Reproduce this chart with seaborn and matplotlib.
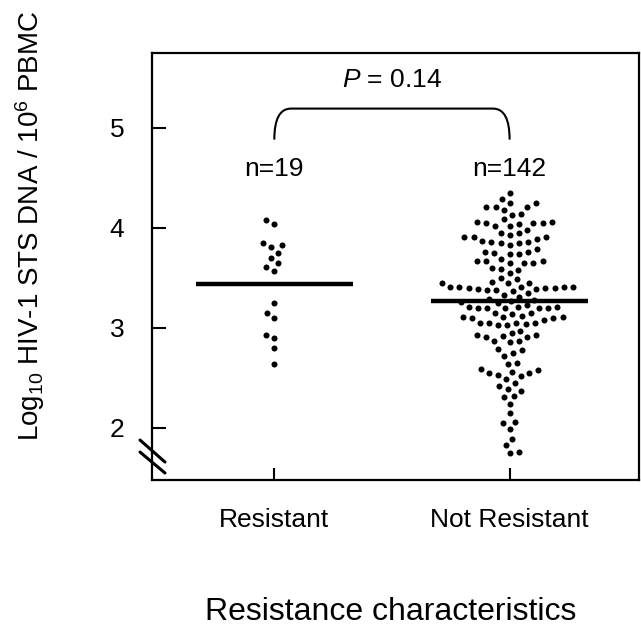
import numpy as np
import pandas as pd
import matplotlib
matplotlib.use('Agg')
import matplotlib.pyplot as plt
import seaborn as sns
from matplotlib.path import Path
from matplotlib.patches import PathPatch

# Data (log10 copies / 10^6 PBMC)
groups = ['Resistant', 'Not Resistant']
resistant = [4.08, 4.04, 3.83, 3.81, 3.85, 3.70, 3.75, 3.61, 3.57, 3.65,
             3.25, 3.15, 3.10, 2.90, 2.93, 2.80, 2.64]
not_resistant = [
    4.35, 4.29, 4.25, 4.25, 4.21, 4.21, 4.21, 4.18, 4.14, 4.13, 4.09, 4.06,
    4.06, 4.05, 4.05, 4.05, 4.04, 4.02, 4.02, 3.98, 3.95, 3.95, 3.93, 3.91,
    3.91, 3.91, 3.89, 3.87, 3.86, 3.86, 3.85, 3.85, 3.83, 3.79, 3.76, 3.76,
    3.75, 3.74, 3.74, 3.69, 3.67, 3.67, 3.67, 3.65, 3.65, 3.65, 3.60, 3.59,
    3.58, 3.55, 3.50, 3.49, 3.46, 3.45, 3.45, 3.45, 3.41, 3.41, 3.41, 3.41,
    3.41, 3.40, 3.40, 3.40, 3.39, 3.39, 3.38, 3.38, 3.37, 3.35, 3.33, 3.31,
    3.29, 3.23, 3.21, 3.21, 3.21, 3.20, 3.20, 3.20, 3.20, 3.20,
    3.28, 3.27, 3.26, 3.25,
    3.14, 3.11, 3.11, 3.11, 3.15, 3.15, 3.10, 3.10, 3.12,
    3.05, 3.05, 3.05, 3.03, 3.05, 3.08, 3.03, 3.04,
    2.93, 2.92, 2.91, 2.87, 2.86, 2.87, 2.91, 2.93, 2.95, 2.97,
    2.78, 2.72, 2.75, 2.79, 2.64, 2.59, 2.65,
    2.58, 2.55, 2.53, 2.49, 2.52, 2.55, 2.56,
    2.45, 2.39, 2.37, 2.42, 2.32, 2.31, 2.24, 2.15,
    2.06, 2.05, 1.99, 1.89, 1.83, 1.75, 1.76]
group_means = [3.44, 3.27]
group_n = ['n=19', 'n=142']
p_label = '$P$ = 0.14'
y_ticks = [2, 3, 4, 5]

df = pd.DataFrame({
    'group': ['Resistant'] * len(resistant) + ['Not Resistant'] * len(not_resistant),
    'value': resistant + not_resistant})

# Style
sns.set_theme(style='white')
plt.rcParams['font.family'] = ['Liberation Sans', 'DejaVu Sans']
plt.rcParams['text.color'] = 'black'
plt.rcParams['mathtext.fontset'] = 'custom'
plt.rcParams['mathtext.rm'] = 'Liberation Sans'
plt.rcParams['mathtext.it'] = 'Liberation Sans:italic'

fig = plt.figure(figsize=(6.41, 6.26), dpi=100)
ax = fig.add_axes([0.2371, 0.2332, 0.7598, 0.6829])

# swarm laid out with a wider marker so the dots keep some air between them
sns.swarmplot(data=df, x='group', y='value', order=groups, color='black',
              size=6.4, linewidth=0, ax=ax)
ax.set_xlim(-0.52, 1.55)
ax.set_ylim(1.48, 5.75)
fig.canvas.draw()
for c in ax.collections:
    if 'draw' in vars(c):
        del c.draw
    c.set_sizes([19])

# group mean bars
for i, m in enumerate(group_means):
    ax.hlines(m, i - 0.335, i + 0.335, colors='black', linewidth=3.2, zorder=3)

# n labels
for i, lab in enumerate(group_n):
    ax.text(i, 4.59, lab, ha='center', va='center', fontsize=19)

# bracket with P value
verts = [(0, 4.88), (0, 5.19), (0.07, 5.19), (0.93, 5.19), (1, 5.19), (1, 4.88)]
codes = [Path.MOVETO, Path.CURVE3, Path.CURVE3, Path.LINETO, Path.CURVE3, Path.CURVE3]
ax.add_patch(PathPatch(Path(verts, codes), facecolor='none', edgecolor='black', lw=1.5))
ax.text(0.5, 5.48, p_label, ha='center', va='center', fontsize=19)

# axes cosmetics
ax.set_yticks(y_ticks)
ax.set_xlabel('')
ax.set_ylabel('')
for s in ax.spines.values():
    s.set_visible(True)
    s.set_color('black')
    s.set_linewidth(1.6)
ax.tick_params(axis='y', direction='in', length=10, width=1.5, pad=20,
               labelsize=19, colors='black', left=True)
ax.tick_params(axis='x', direction='in', length=9, width=1.5, pad=20,
               labelsize=19, colors='black', bottom=True)

# axis break marks on the left spine
for y0, y1 in [(0.0935, 0.042), (0.0654, 0.0164)]:
    ax.plot([-0.0246, 0.0267], [y0, y1], color='black', lw=2.2,
            transform=ax.transAxes, clip_on=False)

fig.text(30 / 641, 1 - 226 / 626,
         r'Log$_{\mathregular{10}}$ HIV-1 STS DNA / 10$^{\mathregular{6}}$ PBMC',
         rotation=90, ha='center', va='center', fontsize=20)
fig.text(391 / 641, 1 - 612 / 626, 'Resistance characteristics',
         ha='center', va='center', fontsize=23)

fig.savefig('out.png', dpi=100)
